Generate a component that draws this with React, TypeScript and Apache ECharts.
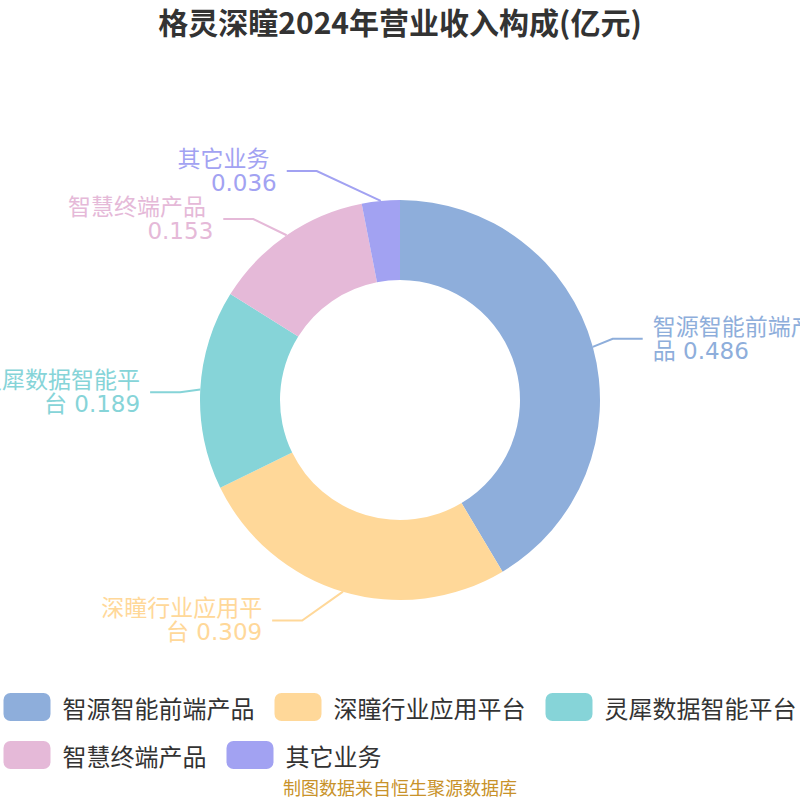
import React, { useEffect, useRef } from "react";
import * as echarts from "echarts";

const categories = ["智源智能前端产品", "深瞳行业应用平台", "灵犀数据智能平台", "智慧终端产品", "其它业务"];
const values = [0.486, 0.309, 0.189, 0.153, 0.036];
const colors = ["#8eaedb", "#ffd899", "#86d4d8", "#e5b9d8", "#a2a2f2"];

// pie geometry / classic (v4-style) outside label layout parameters
const CX = 400;
const CY = 400;
const R_IN = 120;
const R_OUT = 200;
const LEN = 30;
const LEN2 = 30;
const GAP = 10;
const LINE_H = 24;
const LABEL_H = LINE_H * 2;
const VIEW_H = 800;

type Item = { i: number; dir: number; p0: number[]; y: number; x: number };

function classicLabelLayout(): Item[] {
  const total = values.reduce((a, b) => a + b, 0);
  let acc = 0;
  const items: Item[] = values.map((v, i) => {
    const mid = ((acc + v / 2) / total) * 2 * Math.PI;
    acc += v;
    const sx = Math.sin(mid);
    const sy = -Math.cos(mid);
    const dir = sx < 0 ? -1 : 1;
    return {
      i,
      dir,
      p0: [CX + R_OUT * sx, CY + R_OUT * sy],
      y: CY + (R_OUT + LEN) * sy,
      x: CX + (R_OUT + LEN) * sx + dir * LEN2,
    };
  });
  [1, -1].forEach((side) => {
    const list = items.filter((it) => it.dir === side).sort((a, b) => a.y - b.y);
    const n = list.length;
    const shiftUp = (end: number, delta: number) => {
      for (let j = end; j >= 0; j--) {
        if (list[j].y - delta < 0) break;
        list[j].y -= delta;
        if (j > 0 && list[j].y > list[j - 1].y + LABEL_H) break;
      }
    };
    const shiftDown = (start: number, end: number, delta: number) => {
      for (let j = start; j < end; j++) {
        if (list[j].y + delta > VIEW_H) break;
        list[j].y += delta;
        if (j > start && j + 1 < end && list[j + 1].y > list[j].y + LABEL_H) {
          shiftUp(j, delta / 2);
          return;
        }
      }
      shiftUp(end - 1, delta / 2);
    };
    let lastY = 0;
    for (let k = 0; k < n; k++) {
      const d = list[k].y - lastY;
      if (d < 0) shiftDown(k, n, -d);
      lastY = list[k].y + LABEL_H;
    }
    const R = R_OUT + LEN + LEN2;
    const changeX = (sub: Item[], isDown: boolean) => {
      let last = isDown ? Number.MAX_VALUE : 0;
      sub.forEach((it) => {
        const dy = Math.abs(it.y - CY);
        let dx = dy < R_OUT + LEN ? Math.sqrt(R * R - dy * dy) : Math.abs(it.x - CX);
        if (isDown && dx >= last) dx = last - 10;
        if (!isDown && dx <= last) dx = last + 10;
        it.x = CX + dx * side;
        last = dx;
      });
    };
    changeX(list.filter((it) => it.y < CY), false);
    changeX(list.filter((it) => it.y >= CY), true);
  });
  return items;
}

export default function App() {
  const ref = useRef<HTMLDivElement>(null);
  useEffect(() => {
    const chart = echarts.init(ref.current!, null, { renderer: "svg" });
    const font = "'Noto Sans CJK SC', 'Noto Sans', sans-serif";
    const labelFont = "'DejaVu Sans', 'Noto Sans CJK SC', sans-serif";
    const layout = classicLabelLayout();
    chart.setOption({
      animation: false,
      color: colors,
      textStyle: { fontFamily: font },
      title: [
        {
          text: "格灵深瞳2024年营业收入构成(亿元)",
          left: "center",
          top: 1,
          textStyle: { fontSize: 30, fontWeight: "bold", color: "#333", fontFamily: font },
        },
        {
          text: "制图数据来自恒生聚源数据库",
          left: "center",
          bottom: -1,
          textStyle: { fontSize: 18, fontWeight: "normal", color: "#c8922a", fontFamily: font },
        },
      ],
      legend: {
        bottom: 26,
        left: "center",
        width: 800,
        itemWidth: 47,
        itemHeight: 28,
        itemGap: 20,
        icon: "roundRect",
        textStyle: { fontSize: 24, color: "#333", fontFamily: font, padding: [0, 0, 0, 7] },
        data: categories,
      },
      series: [
        {
          type: "pie",
          center: [CX, CY],
          radius: [R_IN, R_OUT],
          startAngle: 90,
          clockwise: true,
          data: categories.map((c, i) => ({ name: c, value: values[i] })),
          label: {
            formatter: "{b} {c}",
            fontSize: 23,
            width: 163,
            overflow: "break",
            lineHeight: LINE_H,
            color: "inherit",
            distanceToLabelLine: GAP,
            fontFamily: labelFont,
          },
          labelLine: { length: LEN, length2: LEN2, lineStyle: { width: 2 } },
          labelLayout: (params: any) => {
            const it = layout[params.dataIndex];
            if (!it) return {};
            const p2 = [it.x - it.dir * GAP, it.y];
            const p1 = [p2[0] - it.dir * LEN2, it.y];
            return {
              x: it.x,
              y: it.y,
              align: it.dir < 0 ? "right" : "left",
              verticalAlign: "middle",
              labelLinePoints: [it.p0, p1, p2],
            };
          },
        },
      ],
    });
    return () => chart.dispose();
  }, []);
  return <div ref={ref} style={{ width: 800, height: 800, position: "absolute", left: 0, top: 0 }} />;
}
